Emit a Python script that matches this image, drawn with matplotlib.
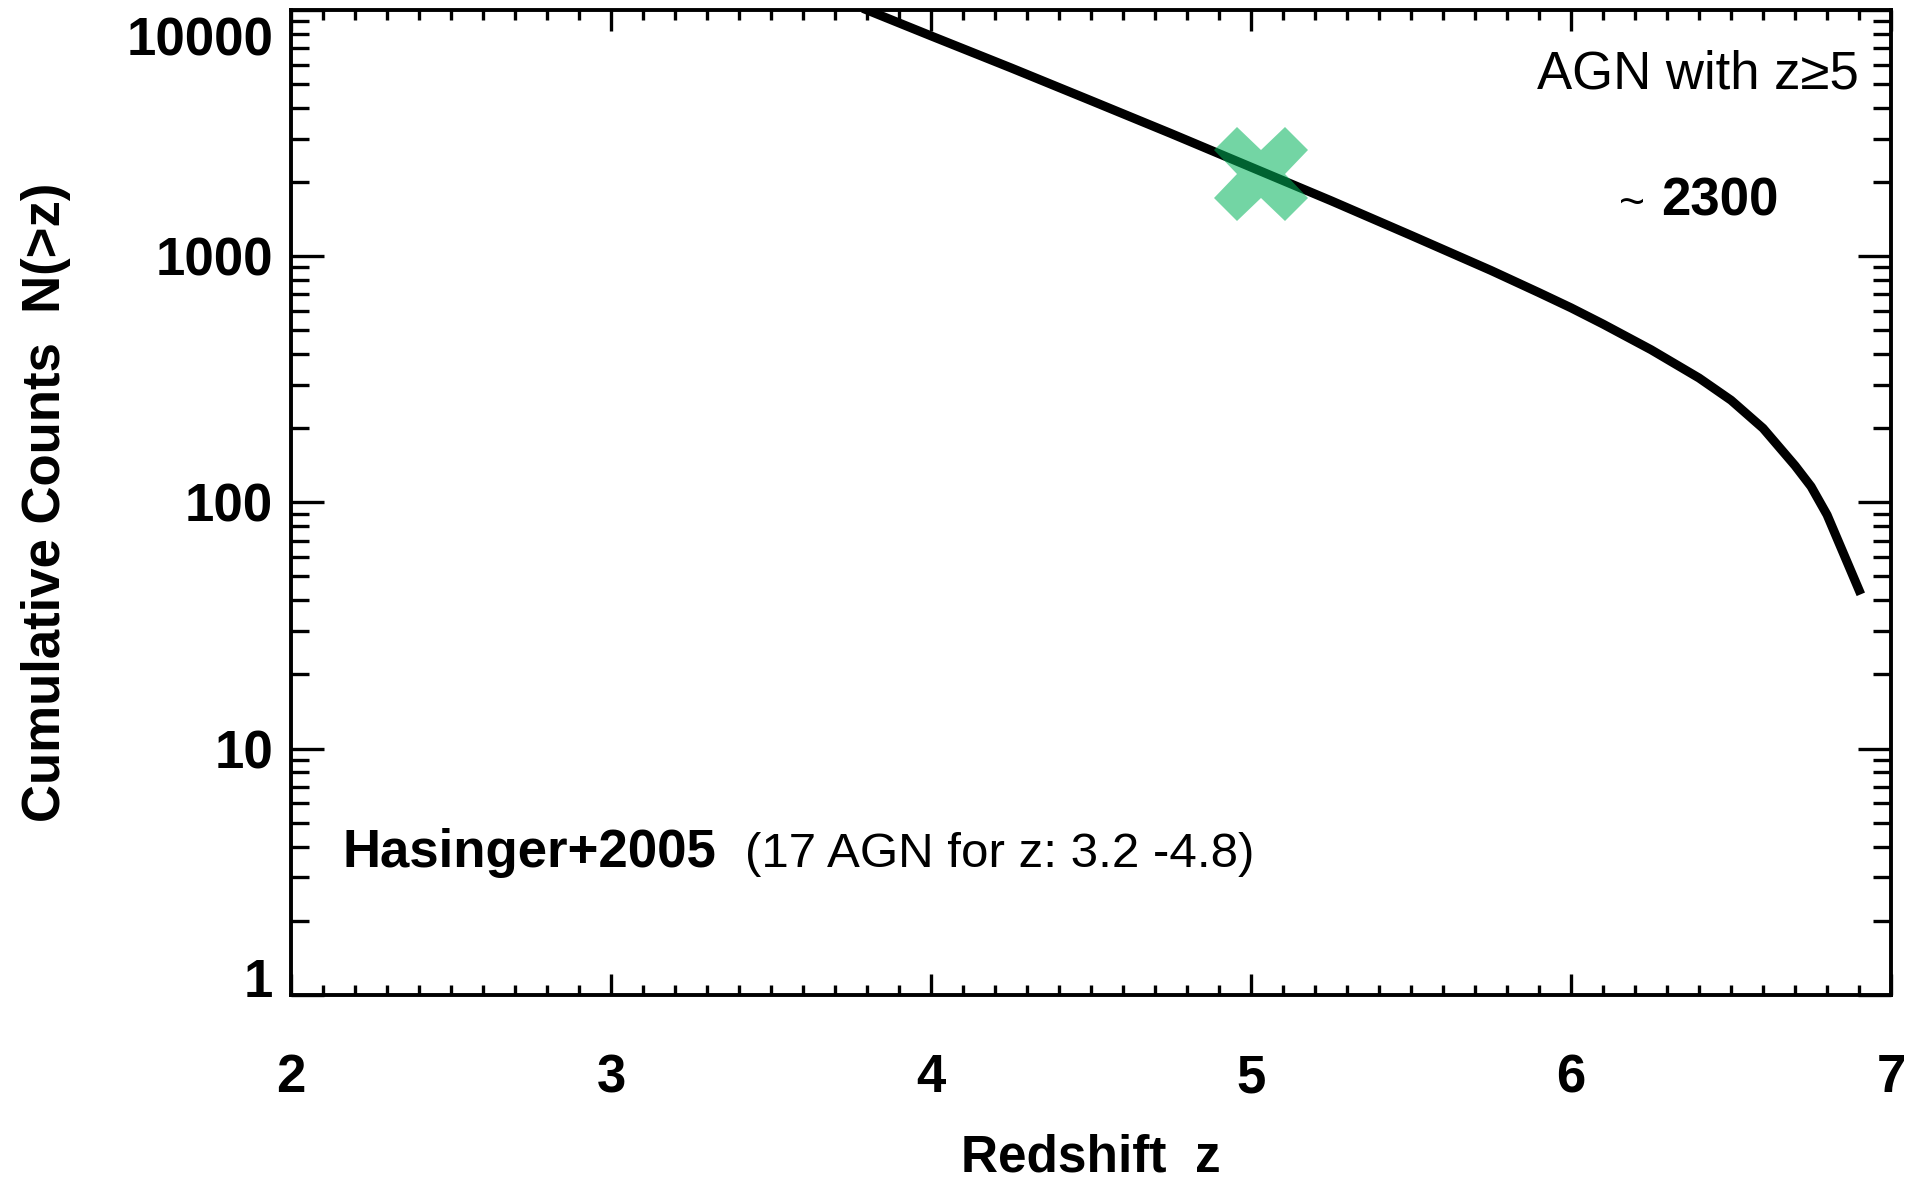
# Cumulative counts of AGN vs redshift
import matplotlib
matplotlib.use('Agg')
import matplotlib.pyplot as plt
import matplotlib.transforms as mtrans
from matplotlib.ticker import MultipleLocator, LogLocator, FixedLocator, NullFormatter

matplotlib.rcParams['font.family'] = ['Liberation Sans', 'DejaVu Sans']

# curve
z = [3.80, 4.00, 4.25, 4.50, 4.75, 5.00, 5.25, 5.50, 5.75, 5.90, 6.00, 6.10,
     6.25, 6.40, 6.50, 6.60, 6.70, 6.75, 6.80, 6.90]
n_cum = [10000, 7850, 5820, 4285, 3150, 2300, 1680, 1215, 875, 711, 617, 530,
         417, 320, 260, 200, 141, 116, 89, 44]

# green cross (z>=5 estimate)
mark_z = [5.03]
mark_n = [2150]

x_ticks = [2, 3, 4, 5, 6, 7]
y_ticks = [1, 10, 100, 1000, 10000]
y_labels = ['1', '10', '100', '1000', '10000']

fig = plt.figure(figsize=(19.15, 11.8), dpi=100)
ax = fig.add_axes([0.152, 0.157, 0.8355, 0.8345])

ax.plot(z, n_cum, color='black', lw=6.5, zorder=2)
ax.plot(mark_z, mark_n, marker='X', ms=68, color='#00b45a', alpha=0.55,
        mew=0, ls='none', zorder=3)

ax.set_yscale('log')
ax.set_xlim(2, 7)
ax.set_ylim(1, 10000)

ax.xaxis.set_major_locator(FixedLocator(x_ticks))
ax.xaxis.set_minor_locator(MultipleLocator(0.1))
ax.yaxis.set_major_locator(FixedLocator(y_ticks))
ax.yaxis.set_minor_locator(LogLocator(base=10, subs=range(2, 10)))
ax.yaxis.set_minor_formatter(NullFormatter())
ax.set_xticklabels([str(t) for t in x_ticks])
ax.set_yticklabels(y_labels)

for s in ax.spines.values():
    s.set_linewidth(2.8)

ax.tick_params(which='both', direction='in', top=True, right=True, width=2.4)
ax.tick_params(axis='x', which='major', length=15, pad=42, labelsize=38)
ax.tick_params(axis='x', which='minor', length=7.5)
ax.tick_params(axis='y', which='major', length=24, pad=13, labelsize=38)
ax.tick_params(axis='y', which='minor', length=13)
for lab in ax.get_xticklabels() + ax.get_yticklabels():
    lab.set_fontweight('bold')

# end labels sit inside the axis range, like the original
ylabs = ax.get_yticklabels()
ylabs[-1].set_transform(ylabs[-1].get_transform() +
                        mtrans.ScaledTranslation(0, -0.26, fig.dpi_scale_trans))
ylabs[0].set_transform(ylabs[0].get_transform() +
                       mtrans.ScaledTranslation(0, 0.17, fig.dpi_scale_trans))

ax.set_xlabel('Redshift  z', fontsize=37, fontweight='bold', labelpad=22)
ax.set_ylabel('Cumulative Counts  N(>z)', fontsize=38, fontweight='bold', labelpad=40)

ax.text(0.980, 0.920, 'AGN with z\u22655', transform=ax.transAxes,
        ha='right', va='baseline', fontsize=38)
ax.text(0.846, 0.791, '~', transform=ax.transAxes,
        ha='right', va='baseline', fontsize=32)
ax.text(0.856, 0.791, '2300', transform=ax.transAxes,
        ha='left', va='baseline', fontsize=38, fontweight='bold')

ax.text(0.032, 0.130, 'Hasinger+2005', transform=ax.transAxes,
        ha='left', va='baseline', fontsize=38, fontweight='bold')
ax.text(0.284, 0.130, '(17 AGN for z: 3.2 -4.8)', transform=ax.transAxes,
        ha='left', va='baseline', fontsize=35.5)

fig.savefig('out.png', dpi=100)
